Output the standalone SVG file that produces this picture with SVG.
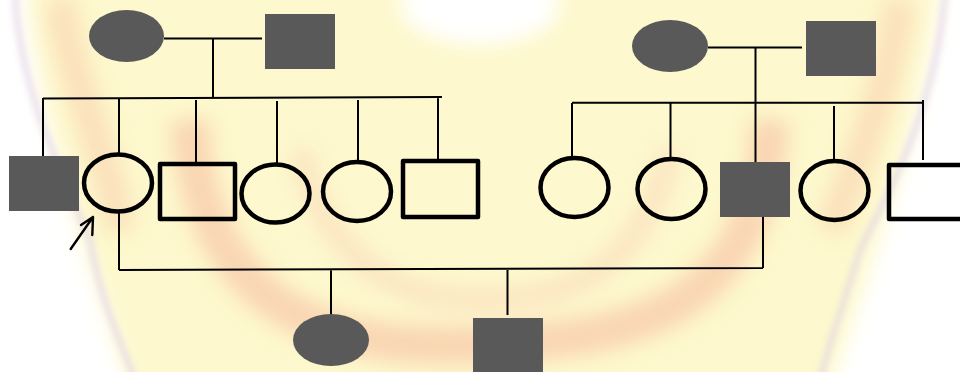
<svg xmlns="http://www.w3.org/2000/svg" width="960" height="372" viewBox="0 0 960 372">
  <defs>
    <filter id="blur" filterUnits="userSpaceOnUse" x="-60" y="-60" width="1080" height="492">
      <feGaussianBlur stdDeviation="10"/>
    </filter>
    <filter id="blur2" filterUnits="userSpaceOnUse" x="-60" y="-60" width="1080" height="492">
      <feGaussianBlur stdDeviation="3"/>
    </filter>
  </defs>
  <style>
    .aff { fill: #595959; stroke: none; }
    .open { fill: none; stroke: #000; stroke-width: 4.5; stroke-linejoin: round; }
    .line { fill: none; stroke: #000; stroke-width: 2; }
    .arrow { fill: none; stroke: #000; stroke-width: 2.4; stroke-linecap: round; stroke-linejoin: round; }
  </style>
  <rect width="960" height="372" fill="#ffffff"/>
  <g id="watermark">
    <path d="M 25 -20 L 940 -20 C 925 120 880 230 830 392 L 130 392 C 90 250 40 140 25 -20 Z" fill="#fdf8c8" filter="url(#blur)" opacity="0.9"/>
    <ellipse cx="480" cy="5" rx="80" ry="40" fill="#ffffff" filter="url(#blur)"/>
    <path d="M 190 120 C 200 330 360 350 480 345 C 620 340 760 320 770 120" fill="none" stroke="#f6b49a" stroke-width="38" opacity="0.5" filter="url(#blur)"/>
    <path d="M 300 150 C 330 280 420 300 480 300 C 560 300 640 280 670 150" fill="none" stroke="#f8c8b0" stroke-width="22" opacity="0.4" filter="url(#blur)"/>
    <path d="M 60 0 C 70 80 110 160 120 230" fill="none" stroke="#f6b49a" stroke-width="30" opacity="0.35" filter="url(#blur)"/>
    <path d="M 900 0 C 890 80 860 160 830 230" fill="none" stroke="#f6b49a" stroke-width="30" opacity="0.35" filter="url(#blur)"/>
    <path d="M 15 -5 C 20 90 60 170 90 240 C 100 300 120 340 135 380" fill="none" stroke="#dccbe6" stroke-width="6" opacity="0.6" filter="url(#blur2)"/>
    <path d="M 945 -5 C 935 110 890 190 860 250 C 845 300 830 340 820 380" fill="none" stroke="#dccbe6" stroke-width="6" opacity="0.6" filter="url(#blur2)"/>
  </g>
  <g id="connectors">
    <path class="line" d="M164 38.5 H262 M213 38.5 V98"/>
    <path class="line" d="M43 98.5 L442 97 M43 98 V157 M119 98 V153 M196 100 V162 M277 101 V164 M358 100 V160 M438 98 V160"/>
    <path class="line" d="M708 47.5 H802 M755.5 47.5 V162"/>
    <path class="line" d="M572 102.7 H923 M572 103 V158 M670.5 103 V158 M834 106 V161 M923 100 V160"/>
    <path class="line" d="M119 212 V270 M119 270 L763 268 M763 217 V268 M331 270 V314 M507.5 269 V315"/>
  </g>
  <g id="gp1-mother"><ellipse class="aff" cx="126.5" cy="36" rx="37.5" ry="26"/></g>
  <g id="gp1-father"><rect class="aff" x="265" y="14" width="70" height="55"/></g>
  <g id="gp2-mother"><ellipse class="aff" cx="670" cy="46" rx="38" ry="26"/></g>
  <g id="gp2-father"><rect class="aff" x="806" y="21" width="70" height="55"/></g>
  <g id="sib1"><rect class="aff" x="9" y="156" width="70" height="55"/></g>
  <g id="proband">
    <ellipse class="open" cx="118" cy="183" rx="34" ry="28.5"/>
    <path class="arrow" d="M70.7 249 L93 217 M81 225 L93 217 L92.3 235"/>
  </g>
  <g id="sib3"><rect class="open" x="160" y="164" width="75" height="55"/></g>
  <g id="sib4"><ellipse class="open" cx="275.5" cy="193.5" rx="34" ry="29"/></g>
  <g id="sib5"><ellipse class="open" cx="357" cy="191.5" rx="34" ry="29.5"/></g>
  <g id="sib6"><rect class="open" x="403" y="161" width="75" height="56"/></g>
  <g id="rsib1"><ellipse class="open" cx="574.5" cy="187.5" rx="34" ry="29.5"/></g>
  <g id="rsib2"><ellipse class="open" cx="671.5" cy="189" rx="34" ry="30"/></g>
  <g id="husband"><rect class="aff" x="720" y="162" width="70" height="55"/></g>
  <g id="rsib4"><ellipse class="open" cx="834.5" cy="190.5" rx="34" ry="29.5"/></g>
  <g id="rsib5"><rect class="open" x="889" y="165" width="75" height="54"/></g>
  <g id="child1"><ellipse class="aff" cx="331" cy="340" rx="38" ry="26"/></g>
  <g id="child2"><rect class="aff" x="473" y="318" width="70" height="60"/></g>
</svg>
